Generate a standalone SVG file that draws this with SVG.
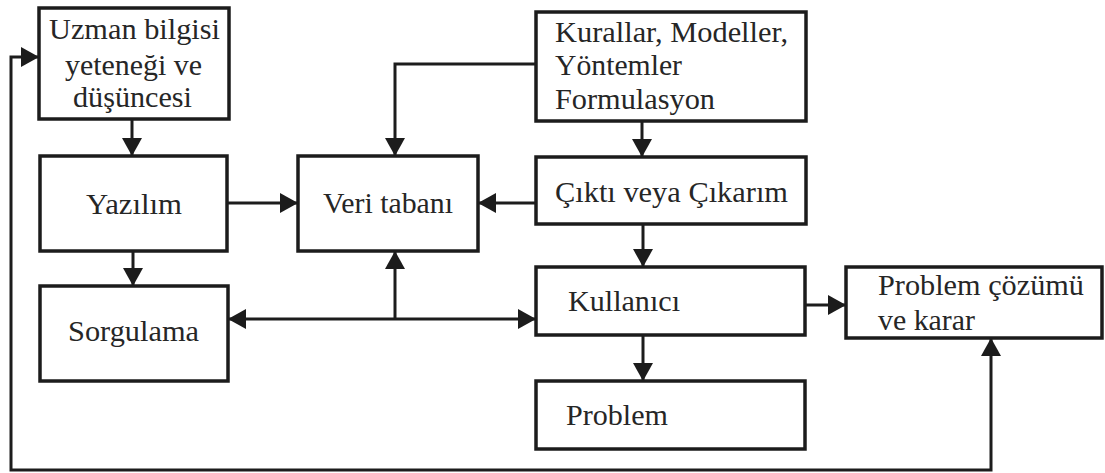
<svg xmlns="http://www.w3.org/2000/svg" width="1105" height="473" viewBox="0 0 1105 473">
  <style>
    .box { fill: #ffffff; stroke: #1c1c1c; stroke-width: 3.5; }
    .wire { fill: none; stroke: #1c1c1c; stroke-width: 3; }
  </style>
  <defs>
    <marker id="arrow" viewBox="0 0 18 20" refX="18" refY="10" markerWidth="18" markerHeight="20" markerUnits="userSpaceOnUse" orient="auto-start-reverse">
      <path d="M0,0 L18,10 L0,20 Z" fill="#1c1c1c"/>
    </marker>
  </defs>
  <rect width="1105" height="473" fill="#ffffff"/>

  <!-- connectors -->
  <g id="connectors">
    <path class="wire" d="M132,119 V156" marker-end="url(#arrow)"/>
    <path class="wire" d="M133,251 V286" marker-end="url(#arrow)"/>
    <path class="wire" d="M227,203 H298" marker-end="url(#arrow)"/>
    <path class="wire" d="M536,203 H478" marker-end="url(#arrow)"/>
    <path class="wire" d="M536,64 H395 V156" marker-end="url(#arrow)"/>
    <path class="wire" d="M642,121 V157" marker-end="url(#arrow)"/>
    <path class="wire" d="M643,224 V267" marker-end="url(#arrow)"/>
    <path class="wire" d="M643,335 V381" marker-end="url(#arrow)"/>
    <path class="wire" d="M228,319 H536" marker-start="url(#arrow)" marker-end="url(#arrow)"/>
    <path class="wire" d="M395,319 V251" marker-end="url(#arrow)"/>
    <path class="wire" d="M805,305 H846" marker-end="url(#arrow)"/>
    <path class="wire" d="M39,57 H11 V470 H991 V338" marker-start="url(#arrow)" marker-end="url(#arrow)"/>
  </g>

  <g font-family="Liberation Serif, Tinos, serif" font-size="30" fill="#262626" lengthAdjust="spacingAndGlyphs">
    <g id="uzman">
      <rect class="box" x="39" y="8" width="190" height="111"/>
      <text x="49" y="39" textLength="171" lengthAdjust="spacingAndGlyphs">Uzman bilgisi</text>
      <text x="65" y="75" textLength="137" lengthAdjust="spacingAndGlyphs">yeteneği ve</text>
      <text x="73" y="107" textLength="119" lengthAdjust="spacingAndGlyphs">düşüncesi</text>
    </g>

    <g id="kurallar">
      <rect class="box" x="536" y="12" width="270" height="109"/>
      <text x="555" y="42" textLength="233" lengthAdjust="spacingAndGlyphs">Kurallar, Modeller,</text>
      <text x="555" y="75" textLength="127" lengthAdjust="spacingAndGlyphs">Yöntemler</text>
      <text x="555" y="109" textLength="160" lengthAdjust="spacingAndGlyphs">Formulasyon</text>
    </g>

    <g id="yazilim">
      <rect class="box" x="40" y="156" width="187" height="95"/>
      <text x="86" y="214" textLength="96" lengthAdjust="spacingAndGlyphs">Yazılım</text>
    </g>

    <g id="veri-tabani">
      <rect class="box" x="298" y="156" width="180" height="95"/>
      <text x="323" y="213" textLength="130" lengthAdjust="spacingAndGlyphs">Veri tabanı</text>
    </g>

    <g id="cikti">
      <rect class="box" x="536" y="157" width="270" height="67"/>
      <text x="555" y="202" textLength="233" lengthAdjust="spacingAndGlyphs">Çıktı veya Çıkarım</text>
    </g>

    <g id="sorgulama">
      <rect class="box" x="40" y="286" width="188" height="95"/>
      <text x="68" y="341" textLength="131" lengthAdjust="spacingAndGlyphs">Sorgulama</text>
    </g>

    <g id="kullanici">
      <rect class="box" x="536" y="267" width="269" height="68"/>
      <text x="568" y="311" textLength="112" lengthAdjust="spacingAndGlyphs">Kullanıcı</text>
    </g>

    <g id="problem-cozumu">
      <rect class="box" x="846" y="267" width="256" height="71"/>
      <text x="878" y="295" textLength="206" lengthAdjust="spacingAndGlyphs">Problem çözümü</text>
      <text x="878" y="330" textLength="97" lengthAdjust="spacingAndGlyphs">ve karar</text>
    </g>

    <g id="problem">
      <rect class="box" x="536" y="381" width="269" height="68"/>
      <text x="566" y="425" textLength="102" lengthAdjust="spacingAndGlyphs">Problem</text>
    </g>
  </g>
</svg>
